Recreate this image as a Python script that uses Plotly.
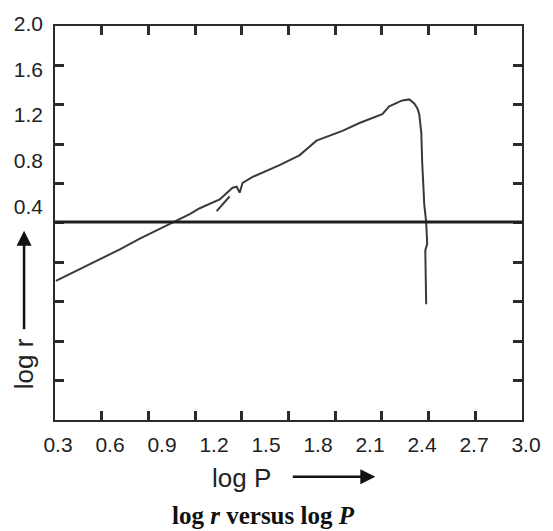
import plotly.graph_objects as go

# ---------------- data ----------------
log_P = [0.288, 0.427, 0.542, 0.657, 0.772, 0.887, 0.962, 1.060, 1.118, 1.233,
         1.307, 1.331, 1.348, 1.365, 1.423, 1.578, 1.693, 1.734, 1.791, 1.941,
         2.039, 2.171, 2.211, 2.286, 2.327, 2.355, 2.373, 2.384, 2.396, 2.401,
         2.413, 2.424, 2.430, 2.419, 2.424, 2.424]
log_r = [-0.254, -0.151, -0.065, 0.022, 0.116, 0.202, 0.262, 0.331, 0.383, 0.460,
         0.563, 0.572, 0.520, 0.606, 0.658, 0.761, 0.847, 0.899, 0.976, 1.062,
         1.131, 1.209, 1.277, 1.329, 1.338, 1.303, 1.260, 1.209, 1.045, 0.787,
         0.417, 0.262, 0.073, 0.013, -0.297, -0.460]
branch_P = [1.215, 1.290]
branch_r = [0.357, 0.486]
ref_line_r = 0.262

x_tick_vals = [0.3, 0.6, 0.9, 1.2, 1.5, 1.8, 2.1, 2.4, 2.7, 3.0]
x_tick_text = ["0.3", "0.6", "0.9", "1.2", "1.5", "1.8", "2.1", "2.4", "2.7", "3.0"]
y_tick_vals = [2.0, 1.6, 1.2, 0.8, 0.4]
y_tick_text = ["2.0", "1.6", "1.2", "0.8", "0.4"]
frame_divisions = 10

x_title = "log P"
y_title = "log r"
caption = "<b>log <i>r</i> versus log <i>P</i></b>"

# ---------------- geometry (pixels) ----------------
W, H = 553, 531
PL, PR, PT, PB = 55, 531, 14, 420       # plotting paper
FL, FR, FT, FB = 55, 523, 18, 420       # drawn frame
X0_PX, X_PER = 58.0, (527.0 - 58.0) / 2.7   # label 0.3 at 58px
Y0_PX, Y_PER = 16.0, (202.0 - 16.0) / 1.6   # label 2.0 at 16px

def xv(px):
    return 0.3 + (px - X0_PX) / X_PER

def yv(py):
    return 2.0 - (py - Y0_PX) / Y_PER

def pxp(px):
    return (px - PL) / (PR - PL)

def pyp(py):
    return (PB - py) / (PB - PT)

SANS = "Liberation Sans, Arial, sans-serif"
SERIF = "Liberation Serif, Times New Roman, serif"
INK = "#2b2b2b"

fig = go.Figure()
fig.add_trace(go.Scatter(x=[None], y=[None], xaxis="x2", yaxis="y2",
                         showlegend=False, hoverinfo="skip"))
fig.add_trace(go.Scatter(x=log_P, y=log_r, mode="lines",
                         line=dict(color="#3a3a3a", width=2),
                         showlegend=False, hoverinfo="skip"))
fig.add_trace(go.Scatter(x=branch_P, y=branch_r, mode="lines",
                         line=dict(color="#3a3a3a", width=2),
                         showlegend=False, hoverinfo="skip"))

fig.add_shape(type="line", xref="x2 domain", x0=0, x1=1, yref="y",
              y0=ref_line_r, y1=ref_line_r,
              line=dict(color="#1e1e1e", width=3))

fig.update_layout(
    width=W, height=H, autosize=False,
    margin=dict(l=PL, r=W - PR, t=PT, b=H - PB, pad=0),
    paper_bgcolor="white", plot_bgcolor="rgba(0,0,0,0)",
    xaxis=dict(domain=[0, 1], range=[xv(PL), xv(PR)], anchor="y",
               tickvals=x_tick_vals, ticktext=x_tick_text, ticks="",
               showline=False, showgrid=False, zeroline=False,
               ticklabelstandoff=10,
               tickfont=dict(family=SANS, size=21, color="#222")),
    yaxis=dict(domain=[0, 1], range=[yv(PB), yv(PT)], anchor="x",
               tickvals=y_tick_vals, ticktext=y_tick_text, ticks="",
               showline=False, showgrid=False, zeroline=False,
               ticklabelstandoff=11,
               tickfont=dict(family=SANS, size=21, color="#222")),
    xaxis2=dict(domain=[pxp(FL), pxp(FR)], range=[0, frame_divisions],
                anchor="y2", tickvals=list(range(1, frame_divisions)),
                ticks="inside", ticklen=9, tickwidth=2.5, tickcolor=INK,
                showticklabels=False, showline=True, linewidth=2,
                linecolor=INK, mirror="ticks", showgrid=False, zeroline=False),
    yaxis2=dict(domain=[pyp(FB), pyp(FT)], range=[0, frame_divisions],
                anchor="x2", tickvals=list(range(1, frame_divisions)),
                ticks="inside", ticklen=9, tickwidth=2.5, tickcolor=INK,
                showticklabels=False, showline=True, linewidth=2,
                linecolor=INK, mirror="ticks", showgrid=False, zeroline=False),
)

# axis titles with arrows
fig.add_annotation(xref="paper", yref="paper", x=pxp(24), y=pyp(363),
                   text=y_title, textangle=-90, showarrow=False,
                   xanchor="center", yanchor="middle",
                   font=dict(family=SANS, size=26, color="#222"))
fig.add_annotation(xref="paper", yref="paper", x=pxp(24), y=pyp(227),
                   text="", showarrow=True, axref="pixel", ayref="pixel",
                   ax=0, ay=100, arrowhead=2, arrowsize=1.2, arrowwidth=2.5,
                   arrowcolor="#111")
fig.add_annotation(xref="paper", yref="paper", x=pxp(242), y=pyp(479),
                   text=x_title, showarrow=False,
                   xanchor="center", yanchor="middle",
                   font=dict(family=SANS, size=26, color="#222"))
fig.add_annotation(xref="paper", yref="paper", x=pxp(376), y=pyp(478),
                   text="", showarrow=True, axref="pixel", ayref="pixel",
                   ax=-84, ay=0, arrowhead=2, arrowsize=1.2, arrowwidth=2.5,
                   arrowcolor="#111")
fig.add_annotation(xref="paper", yref="paper", x=pxp(264), y=pyp(517),
                   text=caption, showarrow=False,
                   xanchor="center", yanchor="middle",
                   font=dict(family=SERIF, size=25, color="#111"))

fig.write_html("out.html")
